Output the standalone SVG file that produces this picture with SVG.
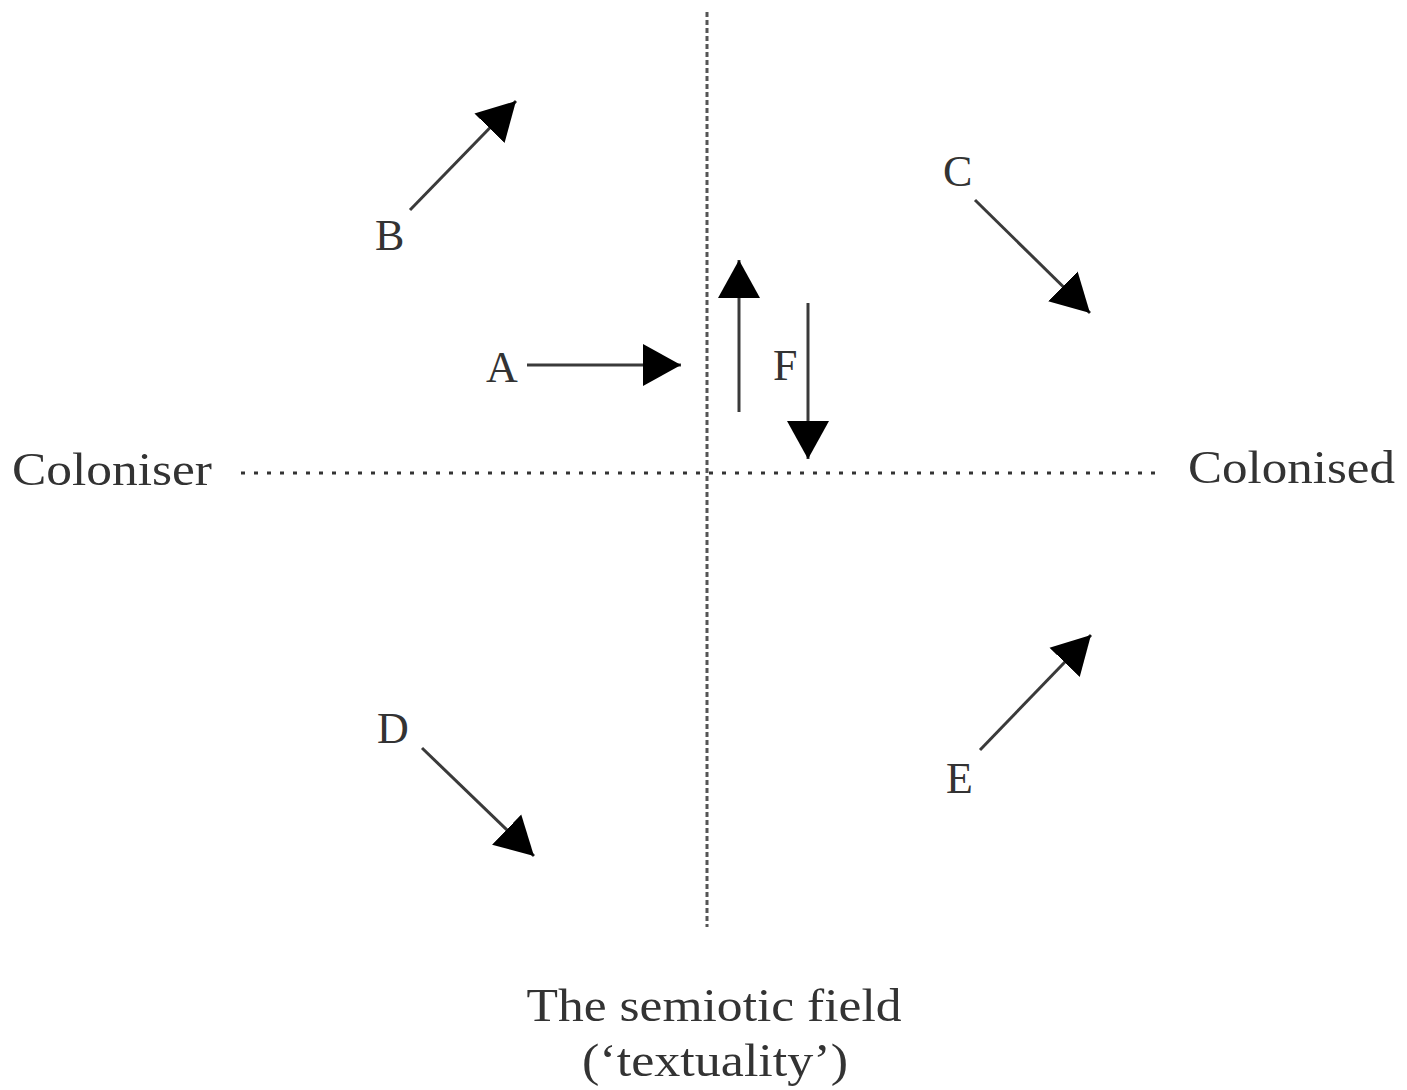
<svg xmlns="http://www.w3.org/2000/svg" width="1407" height="1090" viewBox="0 0 1407 1090">
<style>
.lbl{font-family:"Liberation Serif","Times New Roman",serif;fill:#333;}
.arrow{stroke:#3a3a3a;stroke-width:3;fill:none;marker-end:url(#ah);}
</style>
<defs>
<marker id="ah" markerUnits="userSpaceOnUse" markerWidth="42" markerHeight="44" refX="38" refY="21" orient="auto" viewBox="0 0 42 42">
<path d="M0,0 L38,21 L0,42 Z" fill="#000"/>
</marker>
</defs>
<rect width="1407" height="1090" fill="#fff"/>
<g id="axes">
<line x1="707" y1="12" x2="707" y2="927" stroke="#555" stroke-width="3" stroke-dasharray="5 3"/>
<line x1="241" y1="473" x2="1158" y2="473" stroke="#333" stroke-width="3" stroke-dasharray="4 9"/>
</g>
<g id="connectors">
<line class="arrow" x1="410" y1="210" x2="516" y2="101"/>
<line class="arrow" x1="527" y1="365" x2="681" y2="365"/>
<line class="arrow" x1="739" y1="412" x2="739" y2="260"/>
<line class="arrow" x1="808" y1="303" x2="808" y2="459"/>
<line class="arrow" x1="975" y1="200" x2="1090" y2="313"/>
<line class="arrow" x1="422" y1="748" x2="534" y2="856"/>
<line class="arrow" x1="980" y1="750" x2="1091" y2="635"/>
</g>
<g id="node-coloniser"><text class="lbl" x="12" y="485" font-size="46" textLength="200" lengthAdjust="spacingAndGlyphs">Coloniser</text></g>
<g id="node-colonised"><text class="lbl" x="1188" y="483" font-size="46" textLength="207" lengthAdjust="spacingAndGlyphs">Colonised</text></g>
<g id="node-field">
<text class="lbl" x="714" y="1021" font-size="46" text-anchor="middle" textLength="375" lengthAdjust="spacingAndGlyphs">The semiotic field</text>
<text class="lbl" x="715" y="1076" font-size="46" text-anchor="middle" textLength="266" lengthAdjust="spacingAndGlyphs">(‘textuality’)</text>
</g>
<g id="label-A"><text class="lbl" x="486" y="382" font-size="44">A</text></g>
<g id="label-B"><text class="lbl" x="375" y="250" font-size="44">B</text></g>
<g id="label-C"><text class="lbl" x="943" y="186" font-size="44">C</text></g>
<g id="label-D"><text class="lbl" x="377" y="743" font-size="44">D</text></g>
<g id="label-E"><text class="lbl" x="946" y="793" font-size="44">E</text></g>
<g id="label-F"><text class="lbl" x="773" y="380" font-size="44">F</text></g>
</svg>
